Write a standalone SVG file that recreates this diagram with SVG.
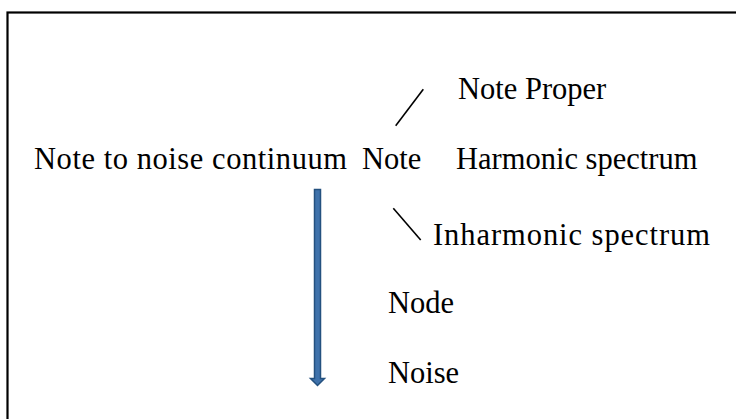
<svg xmlns="http://www.w3.org/2000/svg" width="736" height="419" viewBox="0 0 736 419">
  <defs>
    <style>
      .t { font-family: "Liberation Serif", "Times New Roman", serif; font-size: 30.5px; fill: #000; }
      .branch { stroke: #000; stroke-width: 1.6; fill: none; }
    </style>
  </defs>
  <rect x="0" y="0" width="736" height="419" fill="#fff"/>
  <!-- frame, open at right and bottom -->
  <rect x="7.5" y="12.5" width="740" height="420" fill="none" stroke="#000" stroke-width="2.2"/>

  <g id="continuum">
    <text class="t" x="34" y="169" textLength="313" lengthAdjust="spacing">Note to noise continuum</text>
  </g>
  <g id="note">
    <text class="t" x="362" y="169">Note</text>
  </g>
  <g id="note-proper">
    <text class="t" x="458" y="99">Note Proper</text>
  </g>
  <g id="harmonic">
    <text class="t" x="456" y="169">Harmonic spectrum</text>
  </g>
  <g id="inharmonic">
    <text class="t" x="433" y="245" textLength="277" lengthAdjust="spacing">Inharmonic spectrum</text>
  </g>
  <g id="node">
    <text class="t" x="388" y="313">Node</text>
  </g>
  <g id="noise">
    <text class="t" x="388" y="383">Noise</text>
  </g>

  <g id="connectors">
    <line class="branch" x1="395.7" y1="125.7" x2="423.3" y2="89.3"/>
    <line class="branch" x1="393.3" y1="208.3" x2="420.7" y2="240"/>
    <!-- block arrow down the continuum -->
    <path d="M314.5,189.5 H320.5 V378.5 H324.5 L317.5,385.5 L310.5,378.5 H314.5 Z" fill="#3f72ab" stroke="#24517f" stroke-width="1.5"/>
  </g>
</svg>
